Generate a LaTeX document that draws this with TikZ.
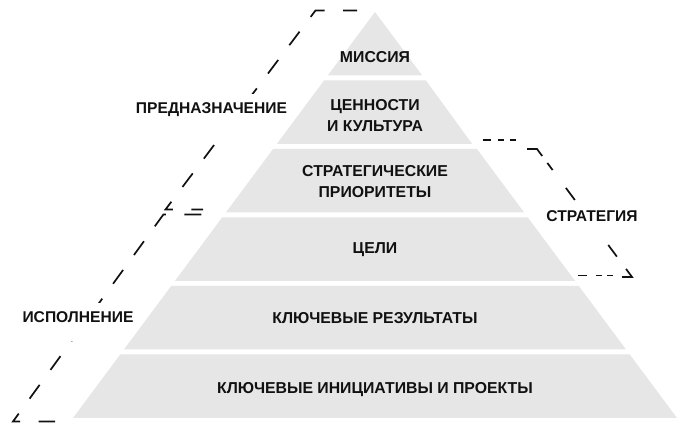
\documentclass[tikz,border=0pt]{standalone}
\usepackage{fontspec}
\usepackage{tikz}
\newfontfamily\labelFont{Liberation Sans}

\begin{document}
\begin{tikzpicture}[x=1pt,y=1pt,
  layerText/.style={text=drawColor,anchor=base,inner sep=0pt,outer sep=0pt,align=center,
    font=\labelFont\bfseries\fontsize{15.8}{21}\selectfont},
  sideText/.style={text=drawColor,anchor=base,fill=fillColor,inner sep=0pt,inner xsep=2pt,
    text height=19.5pt,text depth=18pt,font=\labelFont\bfseries\fontsize{15.6}{21}\selectfont},
  guideLine/.style={draw=drawColor,line width=1.7pt,dash pattern=on 17pt off 18.5pt}]
\definecolor{fillColor}{RGB}{255,255,255}
\definecolor{drawColor}{RGB}{17,17,17}
\definecolor{layerColor}{RGB}{230,230,230}
\path[use as bounding box,fill=fillColor] (0,0) rectangle (687,433);

% brackets
\path[guideLine,dash phase=3pt] (357.00,422.50) -- (315.50,422.50) -- (165.50,223.50) -- (203.00,223.50);
\path[guideLine,dash phase=33.8pt] (203.00,218.50) -- (163.40,218.50) -- ( 13.00, 11.50) -- ( 55.00, 11.50);
\path[guideLine,dash pattern=on 8.5pt off 6.5pt on 6.5pt off 5.5pt on 6.5pt] (482.50,293.00) -- (516.00,293.00);
\path[guideLine,dash pattern=on 18.7pt off 8.7pt on 8.8pt off 22.3pt on 15pt off 21pt on 15pt off 20pt on 14.5pt off 15.4pt on 20pt]
  (527.00,284.00) -- (537.00,284.00) -- (632.00,156.00) -- (622.00,156.00);
\path[guideLine,dash pattern=on 9pt off 9pt on 6pt off 5pt on 6pt] (578.00,157.50) -- (613.00,157.50);

\node[sideText] (purposeLabel) at (211.50,319.00) {ПРЕДНАЗНАЧЕНИЕ};
\node[sideText] (strategyLabel) at (592.00,211.00) {СТРАТЕГИЯ};
\node[sideText] (executionLabel) at ( 78.00,110.00) {ИСПОЛНЕНИЕ};

% pyramid
\path[fill=layerColor] (375.00,421.00) -- (422.20,357.50) -- (327.80,357.50) -- cycle;
\path[fill=layerColor] (324.05,352.50) -- (425.95,352.50) -- (472.18,289.00) -- (276.82,289.00) -- cycle;
\path[fill=layerColor] (273.10,284.00) -- (476.90,284.00) -- (524.13,220.50) -- (225.87,220.50) -- cycle;
\path[fill=layerColor] (222.15,215.50) -- (527.85,215.50) -- (575.08,152.00) -- (174.92,152.00) -- cycle;
\path[fill=layerColor] (171.20,147.00) -- (578.80,147.00) -- (626.03, 83.50) -- (123.97, 83.50) -- cycle;
\path[fill=layerColor] (120.25, 78.50) -- (629.75, 78.50) -- (676.98, 15.00) -- ( 73.02, 15.00) -- cycle;

\node[layerText] (mission) at (375.00,370.30) {МИССИЯ};
\node[layerText] (values) at (375.00,301.00) {ЦЕННОСТИ\\И КУЛЬТУРА};
\node[layerText] (priorities) at (375.00,235.00) {СТРАТЕГИЧЕСКИЕ\\ПРИОРИТЕТЫ};
\node[layerText] (goals) at (375.00,179.00) {ЦЕЛИ};
\node[layerText] (results) at (375.00,109.00) {КЛЮЧЕВЫЕ РЕЗУЛЬТАТЫ};
\node[layerText] (projects) at (375.00, 39.70) {КЛЮЧЕВЫЕ ИНИЦИАТИВЫ И ПРОЕКТЫ};
\end{tikzpicture}
\end{document}
